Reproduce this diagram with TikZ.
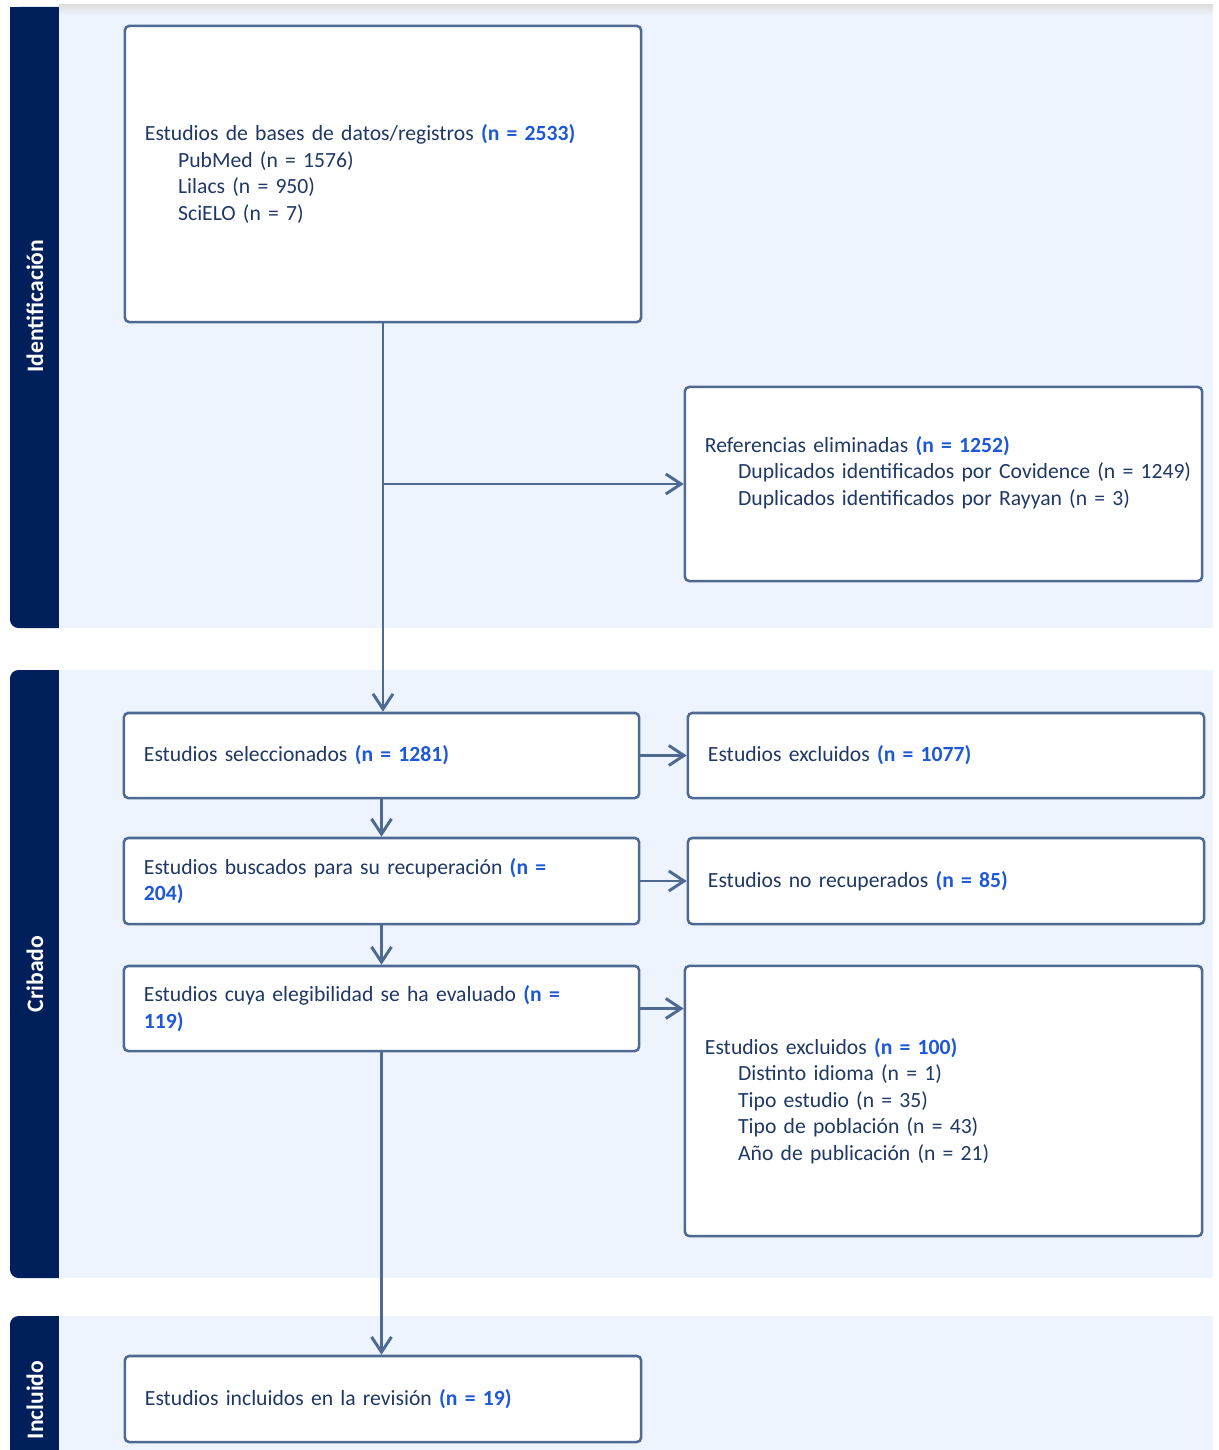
\documentclass[tikz,border=0pt]{standalone}
\usepackage{fontspec}
\setmainfont{Carlito}[WordSpace=0.8]
\usetikzlibrary{arrows.meta,positioning}
\definecolor{barblue}{HTML}{001F5B}
\definecolor{panelblue}{HTML}{EDF4FE}
\definecolor{linegray}{HTML}{4F6A92}
\definecolor{txtblue}{HTML}{1F3864}
\definecolor{nblue}{HTML}{1C58D9}
\newcommand{\nv}[1]{\textcolor{nblue}{\textbf{(n = #1)}}}
\newcommand{\subind}{\hspace*{0.83cm}}

\begin{document}
\begin{tikzpicture}[
  x=0.025cm, y=-0.025cm,
  box/.style={draw=linegray, line width=1.8pt, fill=white, rounded corners=3pt, align=left,
    inner xsep=0.5cm, inner ysep=0pt, text=txtblue, font=\fontsize{15.4}{18.9}\selectfont},
  arr/.style={-{Straight Barb[length=0.38cm,width=0.5cm]}, line width=2.1pt, draw=linegray},
  bar/.style={fill=barblue, rounded corners=6pt},
  panel/.style={fill=panelblue},
  side/.style={rotate=90, text=white, font=\fontsize{16.8}{18}\selectfont\bfseries},
]
  \useasboundingbox (0,0) rectangle (1218,1450);

  \fill[bar] (10,7) rectangle (70,628);
  \fill[barblue] (10,7) rectangle (70,30);
  \fill[panel] (59,9) rectangle (1213,628);
  \shade[top color=black!13, bottom color=panelblue] (59,5) rectangle (1213,15);
  \fill[bar] (10,670) rectangle (70,1278);
  \fill[panel] (59,670) rectangle (1213,1278);
  \fill[bar] (10,1316) rectangle (70,1450);
  \fill[barblue] (10,1420) rectangle (70,1450);
  \fill[panel] (59,1316) rectangle (1213,1450);

  \node[side] (identlbl) at (35,306) {Identificación};
  \node[side] (criblbl) at (35,974) {Cribado};
  \node[side] (incllbl) at (35,1400) {Incluido};

  \node[box, text width=11.9cm, minimum height=7.4cm] (records) at (383,174)
    {Estudios de bases de datos/registros \nv{2533}\\
     \subind PubMed (n = 1576)\\
     \subind Lilacs (n = 950)\\
     \subind SciELO (n = 7)};
  \node[box, text width=11.925cm, minimum height=4.85cm] (removed) at (943.5,484)
    {Referencias eliminadas \nv{1252}\\
     \subind\mbox{Duplicados identificados por Covidence (n = 1249)}\\
     \subind Duplicados identificados por Rayyan (n = 3)\\
     \mbox{}};
  \node[box, text width=11.875cm, minimum height=2.125cm] (screened) at (381.5,755.5)
    {Estudios seleccionados \nv{1281}};
  \node[box, text width=11.9cm, minimum height=2.125cm] (excl1) at (946,755.5)
    {Estudios excluidos \nv{1077}};
  \node[box, text width=11.875cm, minimum height=2.15cm] (sought) at (381.5,881)
    {Estudios buscados para su recuperación \textcolor{nblue}{\textbf{(n =}}\\
     \textcolor{nblue}{\textbf{204)}}};
  \node[box, text width=11.9cm, minimum height=2.15cm] (notret) at (946,881)
    {Estudios no recuperados \nv{85}};
  \node[box, text width=11.875cm, minimum height=2.125cm] (assessed) at (381.5,1008.5)
    {Estudios cuya elegibilidad se ha evaluado \textcolor{nblue}{\textbf{(n =}}\\
     \textcolor{nblue}{\textbf{119)}}};
  \node[box, text width=11.925cm, minimum height=6.75cm] (excl2) at (943.5,1101)
    {Estudios excluidos \nv{100}\\
     \subind Distinto idioma (n = 1)\\
     \subind Tipo estudio (n = 35)\\
     \subind Tipo de población (n = 43)\\
     \subind Año de publicación (n = 21)};
  \node[box, text width=11.9cm, minimum height=2.15cm] (included) at (383,1399)
    {Estudios incluidos en la revisión \nv{19}};

  \coordinate (branch) at (records.south |- removed.west);
  \draw[arr] (records.south) -- (records.south |- screened.north);
  \draw[arr] (branch) -- (removed.west);
  \draw[arr] (screened.east) -- (excl1.west);
  \draw[arr] (screened.south) -- (sought.north);
  \draw[arr] (sought.east) -- (notret.west);
  \draw[arr] (sought.south) -- (assessed.north);
  \draw[arr] (assessed.east) -- (assessed.east -| excl2.west);
  \draw[arr] (assessed.south) -- (assessed.south |- included.north);
\end{tikzpicture}
\end{document}
